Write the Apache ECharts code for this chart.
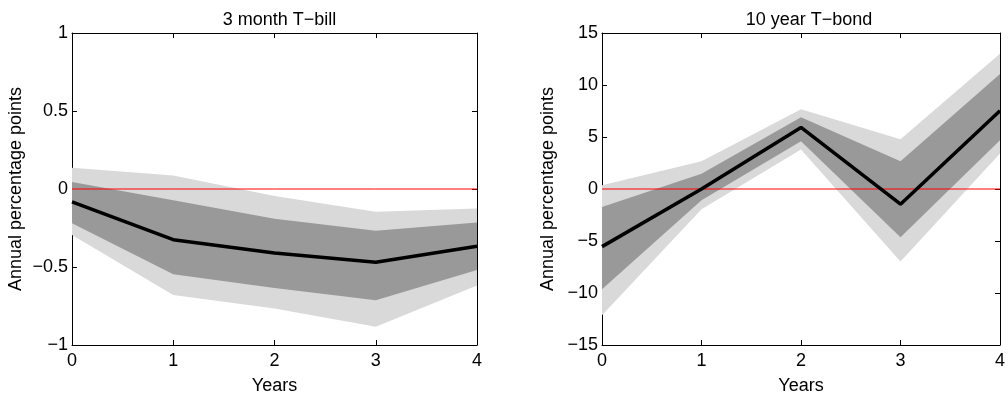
<!DOCTYPE html>
<html>
<head>
<meta charset="utf-8">
<script src="https://cdn.jsdelivr.net/npm/echarts@6/dist/echarts.min.js"></script>
<style>
  html, body { margin: 0; padding: 0; background: #fff; }
  #chart { width: 1008px; height: 400px; }
</style>
</head>
<body>
<div id="chart"></div>
<script>
// Horizon in years
const years = [0, 1, 2, 3, 4];

// 3 month T-bill response with inner and outer bands
const mean3m    = [-0.083, -0.325, -0.41, -0.47, -0.367];
const darkHi3m  = [0.045, -0.072, -0.19, -0.268, -0.214];
const darkLo3m  = [-0.219, -0.546, -0.635, -0.713, -0.52];
const lightHi3m = [0.136, 0.087, -0.045, -0.146, -0.125];
const lightLo3m = [-0.295, -0.68, -0.766, -0.883, -0.618];

// 10 year T-bond response with inner and outer bands
const mean10y    = [-5.54, 0.0, 5.92, -1.46, 7.52];
const darkHi10y  = [-1.72, 1.46, 6.91, 2.68, 11.05];
const darkLo10y  = [-9.65, -1.08, 4.59, -4.65, 4.68];
const lightHi10y = [0.35, 2.68, 7.68, 4.78, 13.0];
const lightLo10y = [-12.13, -1.94, 3.79, -6.97, 3.41];

const titles = ['3 month T\u2212bill', '10 year T\u2212bond'];
const yRanges = [{ min: -1, max: 1, interval: 0.5 }, { min: -15, max: 15, interval: 5 }];

const FONT = 'Liberation Sans, Arial, Helvetica, sans-serif';
const LIGHT = '#d9d9d9';
const DARK = '#999999';
const ZERO = '#ff0000';

const pairs = (ys) => years.map((x, i) => [x, ys[i]]);
const fmt = (v) => String(v).replace('-', '\u2212');

// Filled band between lo and hi, drawn as one polygon through the axis scales
function bandSeries(hi, lo, color, xi, yi) {
  return {
    type: 'custom', xAxisIndex: xi, yAxisIndex: yi, silent: true, animation: false,
    data: years.map((x, i) => [x, lo[i], hi[i]]),
    encode: { x: 0, y: [1, 2] },
    renderItem: function (params, api) {
      if (params.dataIndex !== 0) return null;
      const upper = years.map((x, i) => api.coord([x, hi[i]]));
      const lower = years.map((x, i) => api.coord([x, lo[i]])).reverse();
      return {
        type: 'polygon',
        shape: { points: upper.concat(lower) },
        style: { fill: color, stroke: null }
      };
    }
  };
}

const grids = [
  { left: 72, top: 33, width: 405, height: 314 },
  { left: 602, top: 33, width: 404, height: 314 }
];

const xAxes = [], yAxes = [], series = [], titleList = [];

const panels = [
  { mean: mean3m, dHi: darkHi3m, dLo: darkLo3m, lHi: lightHi3m, lLo: lightLo3m, nameGap: 47 },
  { mean: mean10y, dHi: darkHi10y, dLo: darkLo10y, lHi: lightHi10y, lLo: lightLo10y, nameGap: 45 }
];

panels.forEach((p, g) => {
  const axisLine = { show: true, onZero: false, lineStyle: { color: '#000', width: 1 } };
  const tick = { show: true, inside: true, length: 5, lineStyle: { color: '#000' } };
  // bottom x axis
  xAxes.push({
    type: 'value', gridIndex: g, min: 0, max: 4, interval: 1, position: 'bottom',
    axisLine, axisTick: tick, splitLine: { show: false },
    axisLabel: { color: '#000', fontSize: 18, fontFamily: FONT, margin: 7 },
    name: 'Years', nameLocation: 'middle', nameGap: 32,
    nameTextStyle: { color: '#000', fontSize: 18, fontFamily: FONT, verticalAlign: 'top' }
  });
  // top x axis (ticks only)
  xAxes.push({
    type: 'value', gridIndex: g, min: 0, max: 4, interval: 1, position: 'top',
    axisLine, axisTick: tick, splitLine: { show: false }, axisLabel: { show: false }
  });
  const r = yRanges[g];
  yAxes.push({
    type: 'value', gridIndex: g, min: r.min, max: r.max, interval: r.interval, position: 'left',
    axisLine, axisTick: tick, splitLine: { show: false },
    axisLabel: { color: '#000', fontSize: 18, fontFamily: FONT, margin: 4, formatter: fmt },
    name: 'Annual percentage points', nameLocation: 'middle', nameGap: p.nameGap,
    nameTextStyle: { color: '#000', fontSize: 18, fontFamily: FONT }
  });
  // right y axis (ticks only)
  yAxes.push({
    type: 'value', gridIndex: g, min: r.min, max: r.max, interval: r.interval, position: 'right',
    axisLine, axisTick: tick, splitLine: { show: false }, axisLabel: { show: false }
  });
  const xi = g * 2, yi = g * 2;
  const base = { type: 'line', xAxisIndex: xi, yAxisIndex: yi, symbol: 'none', silent: true, animation: false };
  series.push(bandSeries(p.lHi, p.lLo, LIGHT, xi, yi));
  series.push(bandSeries(p.dHi, p.dLo, DARK, xi, yi));
  // zero reference line
  series.push(Object.assign({}, base, {
    color: ZERO,
    data: years.map((x) => [x, 0]),
    lineStyle: { color: ZERO, width: 1 }
  }));
  // point estimate
  series.push(Object.assign({}, base, {
    color: '#000',
    data: pairs(p.mean),
    lineStyle: { color: '#000', width: 3.5 }
  }));
  titleList.push({
    text: titles[g], left: grids[g].left + grids[g].width / 2, top: 6, textAlign: 'center',
    textStyle: { color: '#000', fontSize: 18, fontWeight: 'normal', fontFamily: FONT }
  });
});

const chart = echarts.init(document.getElementById('chart'), null, { renderer: 'canvas' });
chart.setOption({
  animation: false,
  backgroundColor: '#fff',
  title: titleList,
  grid: grids,
  xAxis: xAxes,
  yAxis: yAxes,
  series: series
});
</script>
</body>
</html>
